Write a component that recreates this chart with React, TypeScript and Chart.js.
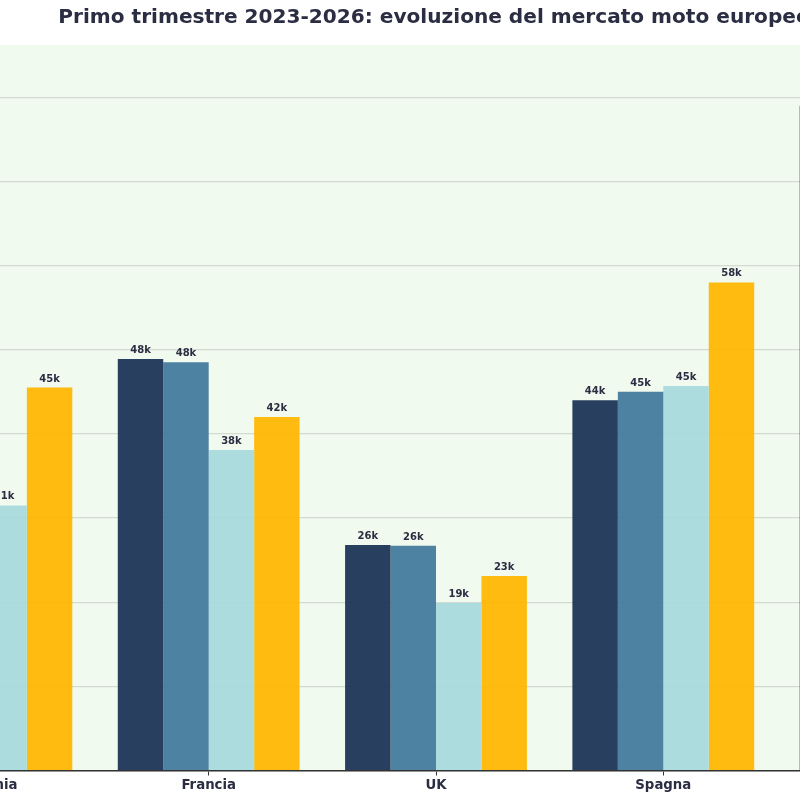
import React, { useEffect, useRef } from "react";
import { Chart, registerables } from "chart.js";

Chart.register(...registerables);

const categories = ["Germania", "Francia", "UK", "Spagna", "Italia"];
const years = ["2023", "2024", "2025", "2026"];
// immatricolazioni (migliaia)
const values2023 = [40.0, 48.9, 26.8, 44.0, 79.0];
const values2024 = [42.0, 48.5, 26.7, 45.0, 78.0];
const values2025 = [31.5, 38.1, 19.9, 45.7, 66.0];
const values2026 = [45.5, 42.0, 23.1, 58.0, 72.0];
const seriesColors = [
  "rgba(29,53,87,0.95)",
  "rgba(69,123,157,0.95)",
  "rgba(168,218,220,0.95)",
  "rgba(255,183,3,0.95)",
];
const yMax = 86.2;
const yStep = 10;

const TEXT = "#2b2d42";
const FONT = "'DejaVu Sans', sans-serif";

const bgPlugin = {
  id: "plotBg",
  beforeDraw(chart: any) {
    const { ctx, chartArea } = chart;
    ctx.save();
    ctx.fillStyle = "#F1FAEE";
    ctx.fillRect(chartArea.left, chartArea.top, chartArea.right - chartArea.left, chartArea.bottom - chartArea.top);
    ctx.restore();
  },
};

const labelPlugin = {
  id: "barLabels",
  afterDatasetsDraw(chart: any) {
    const { ctx } = chart;
    ctx.save();
    ctx.font = `bold 10px ${FONT}`;
    ctx.fillStyle = TEXT;
    ctx.textAlign = "center";
    ctx.textBaseline = "alphabetic";
    chart.data.datasets.forEach((ds: any, i: number) => {
      const meta = chart.getDatasetMeta(i);
      meta.data.forEach((el: any, j: number) => {
        const v = ds.data[j];
        ctx.fillText(`${Math.floor(v + 1e-9)}k`, el.x, el.y - 6);
      });
    });
    ctx.restore();
  },
};

export default function App() {
  const ref = useRef<HTMLCanvasElement | null>(null);

  useEffect(() => {
    if (!ref.current) return;
    const allValues = [values2023, values2024, values2025, values2026];
    const chart = new Chart(ref.current, {
      type: "bar",
      data: {
        labels: categories,
        datasets: years.map((y, i) => ({
          label: y,
          data: allValues[i],
          backgroundColor: seriesColors[i],
          borderWidth: 0,
          barPercentage: 1,
          categoryPercentage: 0.8,
        })),
      },
      options: {
        animation: false,
        responsive: false,
        devicePixelRatio: 1,
        layout: { padding: { left: 17.75, right: 21.75, top: 0, bottom: 0 } },
        plugins: {
          legend: { display: false },
          tooltip: { enabled: false },
          title: {
            display: true,
            text: "Primo trimestre 2023-2026: evoluzione del mercato moto europeo",
            color: TEXT,
            font: { family: FONT, size: 20.1, weight: "bold" },
            padding: { top: 5.5, bottom: 15.5 },
          },
        },
        scales: {
          x: {
            offset: true,
            grid: {
              display: true,
              offset: false,
              drawOnChartArea: false,
              drawTicks: true,
              tickLength: 5,
              color: "#333333",
              lineWidth: 1,
            },
            border: { display: true, color: "#333333", width: 1.5 },
            ticks: {
              color: TEXT,
              padding: 2,
              font: { family: FONT, size: 13.3, weight: "bold" },
            },
            afterFit(scale: any) {
              scale.height = 29.5;
            },
          },
          y: {
            min: 0,
            max: yMax,
            ticks: { display: false, stepSize: yStep },
            border: { display: false },
            grid: {
              color: (c: any) => (c.tick && c.tick.value % yStep === 0 ? "#d2dad2" : "rgba(0,0,0,0)"),
              lineWidth: 1.2,
              drawTicks: false,
            },
            afterFit(scale: any) {
              scale.width = 4;
            },
          },
        },
      },
      plugins: [bgPlugin, labelPlugin],
    });
    return () => chart.destroy();
  }, []);

  return (
    <div
      style={{
        position: "fixed",
        left: 0,
        top: 0,
        width: 800,
        height: 800,
        overflow: "hidden",
        background: "#ffffff",
      }}
    >
      <canvas
        ref={ref}
        width={1180}
        height={800}
        style={{ position: "absolute", left: -154, top: 0, width: 1180, height: 800 }}
      />
    </div>
  );
}
